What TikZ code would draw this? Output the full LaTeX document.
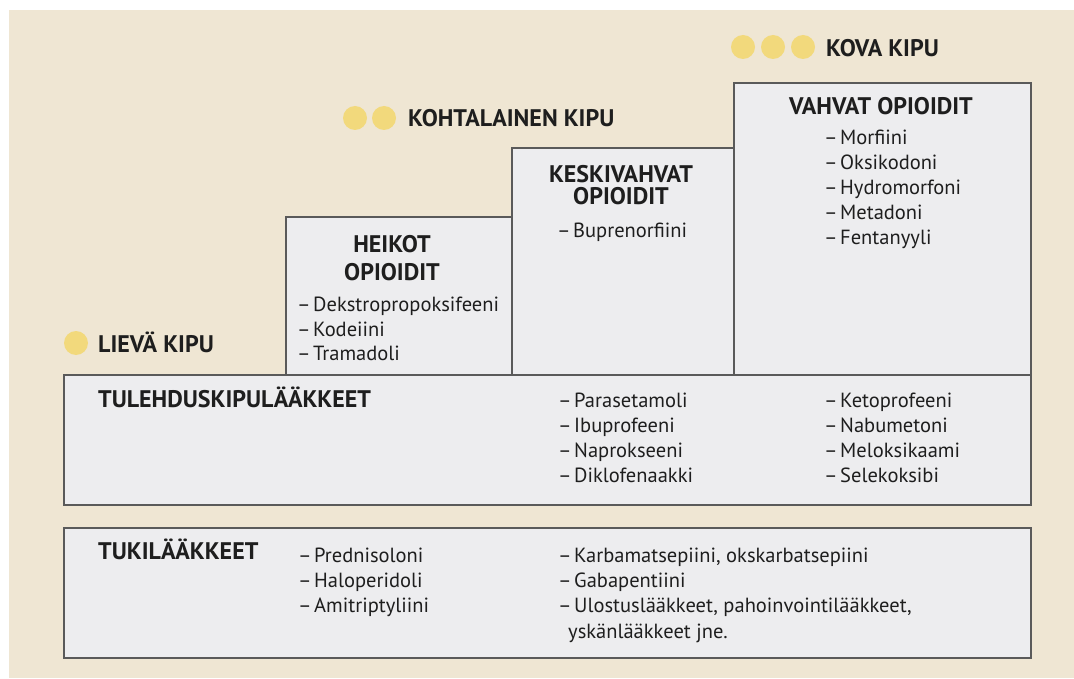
\documentclass[tikz,border=0pt]{standalone}
\usepackage{fontspec}
\setmainfont{PT Sans}
\definecolor{bgbeige}{HTML}{EFE6D3}
\definecolor{boxfill}{HTML}{EDEDEF}
\definecolor{boxline}{HTML}{5A5A5A}
\definecolor{dotyellow}{HTML}{F2D97C}
\definecolor{txt}{HTML}{1E1E1E}
\tikzset{
  box/.style={draw=boxline, line width=1.6pt, fill=boxfill, anchor=north west, inner sep=0pt, outer sep=0pt},
  head/.style={font=\bfseries\fontsize{24}{26}\selectfont, text=txt, inner sep=0pt, anchor=base},
  headw/.style={head, anchor=base west},
  item/.style={font=\fontsize{20.5}{25}\selectfont, text=txt, inner sep=0pt, anchor=base west},
  paindot/.style={circle, fill=dotyellow, minimum size=24pt, inner sep=0pt},
  painlabel/.style={font=\bfseries\fontsize{24}{26}\selectfont, text=txt, inner sep=0pt, anchor=base west}
}
\newcommand{\dash}{–\hspace{2.5pt}}
\begin{document}
\begin{tikzpicture}[x=1pt,y=-1pt]
\useasboundingbox (0,0) rectangle (1074,679);
\fill[white] (0,0) rectangle (1074,679);
\fill[bgbeige] (9,10) rectangle (1074,678);

% opioid step boxes
\node[box, minimum width=226pt, minimum height=158pt] (heikotbox) at (286,217) {};
\node[box, minimum width=222pt, minimum height=227pt] (keskibox) at (512,148) {};
\node[box, minimum width=297pt, minimum height=292pt] (vahvatbox) at (734,83) {};
% bottom boxes
\node[box, minimum width=967pt, minimum height=130pt] (tulehdusbox) at (64,375) {};
\node[box, minimum width=967pt, minimum height=130pt] (tukibox) at (64,528) {};

% pain levels
\node[paindot] (d1) at (76,343) {};
\node[painlabel] (lieva) at (98,352) {LIEVÄ KIPU};
\node[paindot] (d2a) at (355,118) {};
\node[paindot] (d2b) at (384,118) {};
\node[painlabel] (kohtalainen) at (408,127) {KOHTALAINEN KIPU};
\node[paindot] (d3a) at (743,47) {};
\node[paindot] (d3b) at (773,47) {};
\node[paindot] (d3c) at (803,47) {};
\node[painlabel] (kova) at (826,57) {KOVA KIPU};

% heikot
\node[head] (h1) at (392,253) {HEIKOT};
\node[head] (h2) at (392,280) {OPIOIDIT};
\node[item] (h3) at (297,312) {\dash Dekstropropoksifeeni};
\node[item] (h4) at (297,336) {\dash Kodeiini};
\node[item] (h5) at (297,360) {\dash Tramadoli};

% keskivahvat
\node[head] (k1) at (621,183) {KESKIVAHVAT};
\node[head] (k2) at (621,205) {OPIOIDIT};
\node[item] (k3) at (557,238) {\dash Buprenorfiini};

% vahvat
\node[head] (v1) at (881,115) {VAHVAT OPIOIDIT};
\node[item] (v2) at (824,145) {\dash Morfiini};
\node[item] (v3) at (824,170) {\dash Oksikodoni};
\node[item] (v4) at (824,195) {\dash Hydromorfoni};
\node[item] (v5) at (824,220) {\dash Metadoni};
\node[item] (v6) at (824,245) {\dash Fentanyyli};

% tulehduskipulaakkeet
\node[headw] (t0) at (98,407) {TULEHDUSKIPULÄÄKKEET};
\node[item] (t1) at (558,407) {\dash Parasetamoli};
\node[item] (t2) at (558,432) {\dash Ibuprofeeni};
\node[item] (t3) at (558,457) {\dash Naprokseeni};
\node[item] (t4) at (558,482) {\dash Diklofenaakki};
\node[item] (t5) at (824,407) {\dash Ketoprofeeni};
\node[item] (t6) at (824,432) {\dash Nabumetoni};
\node[item] (t7) at (824,457) {\dash Meloksikaami};
\node[item] (t8) at (824,482) {\dash Selekoksibi};

% tukilaakkeet
\node[headw] (u0) at (98,559) {TUKILÄÄKKEET};
\node[item] (u1) at (298,562) {\dash Prednisoloni};
\node[item] (u2) at (298,587) {\dash Haloperidoli};
\node[item] (u3) at (298,612) {\dash Amitriptyliini};
\node[item] (u4) at (558,562) {\dash Karbamatsepiini, okskarbatsepiini};
\node[item] (u5) at (558,587) {\dash Gabapentiini};
\node[item] (u6) at (558,612) {\dash Ulostuslääkkeet, pahoinvointilääkkeet,};
\node[item] (u7) at (568,638) {yskänlääkkeet jne.};
\end{tikzpicture}
\end{document}
